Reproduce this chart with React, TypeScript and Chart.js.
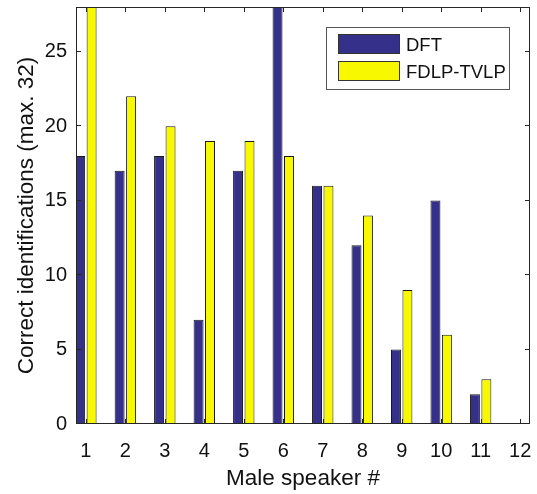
import React, { useEffect, useRef } from "react";
import { Chart, registerables } from "chart.js";

Chart.register(...registerables);

// ---- data ----
const speakers = [1, 2, 3, 4, 5, 6, 7, 8, 9, 10, 11, 12];
const dftValues = [18, 17, 18, 7, 17, 28, 16, 12, 5, 15, 2, 0];
const fdlpValues = [28, 22, 20, 19, 19, 18, 16, 14, 9, 6, 3, 0];
const yTickValues = [0, 5, 10, 15, 20, 25];
const seriesLabels = ["DFT", "FDLP-TVLP"];
const seriesColors = ["#35308A", "#F8F800"];
const xTitle = "Male speaker #";
const yTitle = "Correct identifications (max. 32)";

const FONT = "'Liberation Sans', Arial, Helvetica, sans-serif";
const AXIS_COLOR = "#262626";

const framePlugin = {
  id: "matlabFrame",
  afterDatasetsDraw(chart: any) {
    const { ctx, chartArea } = chart;
    const { left, right, top, bottom } = chartArea;
    const xs = chart.scales.x;
    const ys = chart.scales.y;
    const tl = 5;
    ctx.save();
    ctx.strokeStyle = AXIS_COLOR;
    ctx.lineWidth = 1;
    ctx.beginPath();
    xs.ticks.forEach((t: any) => {
      const px = Math.round(xs.getPixelForValue(t.value)) + 0.5;
      ctx.moveTo(px, bottom);
      ctx.lineTo(px, bottom - tl);
      ctx.moveTo(px, top);
      ctx.lineTo(px, top + tl);
    });
    ys.ticks.forEach((t: any) => {
      const py = Math.round(ys.getPixelForValue(t.value)) - 0.5;
      ctx.moveTo(left, py);
      ctx.lineTo(left + tl, py);
      ctx.moveTo(right, py);
      ctx.lineTo(right - tl, py);
    });
    ctx.stroke();
    ctx.strokeRect(
      Math.round(left) + 0.5,
      Math.round(top) + 0.5,
      Math.round(right) - Math.round(left) - 1,
      Math.round(bottom) - Math.round(top) - 1
    );
    ctx.restore();
  },
  afterDraw(chart: any) {
    const { ctx, chartArea } = chart;
    const fontSize = 18.5;
    ctx.save();
    ctx.font = `${fontSize}px ${FONT}`;
    const datasets = chart.data.datasets;
    const textW = Math.max(...datasets.map((d: any) => ctx.measureText(d.label).width));
    const padX = 12;
    const swW = 62;
    const swH = 20;
    const gap = 6;
    const rowH = 27.4;
    const boxW = Math.round(padX + swW + gap + textW + 3);
    const boxH = 62;
    const boxRight = chartArea.right - 21;
    const boxLeft = Math.round(boxRight - boxW);
    const boxTop = Math.round(chartArea.top + 20);
    ctx.fillStyle = "#ffffff";
    ctx.fillRect(boxLeft, boxTop, boxW, boxH);
    ctx.strokeStyle = "#555555";
    ctx.lineWidth = 1;
    ctx.strokeRect(boxLeft + 0.5, boxTop + 0.5, boxW, boxH);
    datasets.forEach((d: any, i: number) => {
      const sy = Math.round(boxTop + 7 + i * rowH);
      const sx = boxLeft + padX;
      ctx.fillStyle = d.backgroundColor;
      ctx.fillRect(sx, sy, swW, swH);
      ctx.strokeStyle = "#333333";
      ctx.strokeRect(sx + 0.5, sy + 0.5, swW - 1, swH - 1);
      ctx.fillStyle = "#111111";
      ctx.textBaseline = "alphabetic";
      ctx.textAlign = "left";
      ctx.fillText(d.label, sx + swW + gap, sy + swH / 2 + 6.8);
    });
    ctx.restore();
  },
};

export default function App() {
  const canvasRef = useRef<HTMLCanvasElement | null>(null);

  useEffect(() => {
    const canvas = canvasRef.current;
    if (!canvas) return;
    const values = [dftValues, fdlpValues];
    const chart = new Chart(canvas, {
      type: "bar",
      data: {
        datasets: seriesLabels.map((label, si) => ({
          label,
          data: speakers.map((s, i) => ({ x: s, y: values[si][i] })),
          backgroundColor: seriesColors[si],
          borderColor: "#1a1a1a",
          borderWidth: 1,
          categoryPercentage: 0.58,
          barPercentage: 0.87,
        })),
      },
      options: {
        responsive: false,
        animation: false,
        devicePixelRatio: 1,
        layout: { padding: { left: 0, top: 7, right: 7, bottom: 0 } },
        plugins: {
          legend: { display: false },
          tooltip: { enabled: false },
        },
        scales: {
          x: {
            type: "linear",
            min: 0.75,
            max: 12.25,
            offset: false,
            grid: { display: false, drawTicks: false },
            border: { display: false },
            afterBuildTicks: (scale: any) => {
              scale.ticks = speakers.map((v) => ({ value: v }));
            },
            afterFit: (scale: any) => {
              scale.height = 70;
              scale.paddingLeft = 0;
              scale.paddingRight = 0;
            },
            ticks: {
              padding: 15,
              color: "#111111",
              font: { family: FONT, size: 20 },
              callback: (v: any) => String(v),
            },
            title: {
              display: true,
              text: xTitle,
              color: "#111111",
              font: { family: FONT, size: 22.5 },
              padding: { top: 0, bottom: 1.5 },
            },
          },
          y: {
            type: "linear",
            min: 0,
            max: 28,
            grid: { display: false, drawTicks: false },
            border: { display: false },
            afterBuildTicks: (scale: any) => {
              scale.ticks = yTickValues.map((v) => ({ value: v }));
            },
            afterFit: (scale: any) => {
              scale.width = 76;
              scale.paddingTop = 0;
              scale.paddingBottom = 0;
            },
            ticks: {
              padding: 9,
              color: "#111111",
              font: { family: FONT, size: 20 },
              callback: (v: any) => String(v),
            },
            title: {
              display: true,
              text: yTitle,
              color: "#111111",
              font: { family: FONT, size: 22.5 },
              padding: { top: 13, bottom: 0 },
            },
          },
        },
      },
      plugins: [framePlugin],
    } as any);
    return () => chart.destroy();
  }, []);

  return (
    <div
      style={{
        position: "fixed",
        left: 0,
        top: 0,
        width: 537,
        height: 494,
        background: "#ffffff",
      }}
    >
      <canvas ref={canvasRef} width={537} height={494} style={{ display: "block" }} />
    </div>
  );
}
